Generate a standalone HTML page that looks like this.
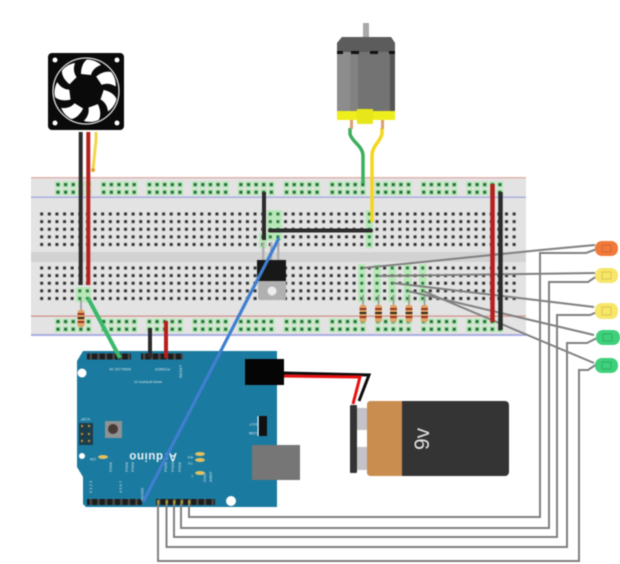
<!DOCTYPE html>
<html>
<head>
<meta charset="utf-8">
<style>
html,body{margin:0;padding:0;background:#fff;width:620px;height:564px;overflow:hidden}
svg{display:block;filter:blur(0.4px)}
text{font-family:"Liberation Sans",sans-serif}
</style>
</head>
<body>
<svg width="620" height="564" viewBox="0 0 620 564" xmlns="http://www.w3.org/2000/svg">
<defs>
<pattern id="h" patternUnits="userSpaceOnUse" x="37.89" y="210.2" width="7.62" height="7.62">
  <rect x="2.3" y="2.3" width="3" height="3" fill="#333"/>
</pattern>
<pattern id="h2" patternUnits="userSpaceOnUse" x="37.89" y="264.2" width="7.62" height="7.62">
  <rect x="2.3" y="2.3" width="3" height="3" fill="#333"/>
</pattern>
<pattern id="gt" patternUnits="userSpaceOnUse" x="37.89" y="210.2" width="7.62" height="7.62">
  <rect width="7.62" height="7.62" fill="#b8e8b8"/>
  <rect x="2.3" y="2.3" width="3" height="3" fill="#2f7a45"/>
</pattern>
<pattern id="gb" patternUnits="userSpaceOnUse" x="37.89" y="264.2" width="7.62" height="7.62">
  <rect width="7.62" height="7.62" fill="#b8e8b8"/>
  <rect x="2.3" y="2.3" width="3" height="3" fill="#2f7a45"/>
</pattern>
<pattern id="rt" patternUnits="userSpaceOnUse" x="54.19" y="180.8" width="7.62" height="7.62">
  <rect x=".8" y=".8" width="6" height="6" fill="#aee6ae"/>
  <rect x="2.3" y="2.3" width="3" height="3" fill="#236b3a"/>
</pattern>
<pattern id="rb" patternUnits="userSpaceOnUse" x="54.19" y="317.8" width="7.62" height="7.62">
  <rect x=".8" y=".8" width="6" height="6" fill="#aee6ae"/>
  <rect x="2.3" y="2.3" width="3" height="3" fill="#236b3a"/>
</pattern>
<pattern id="pins" patternUnits="userSpaceOnUse" x="87" y="0" width="7.62" height="7.62">
  <rect width="7.62" height="7.62" fill="#1d1d1d"/>
  <rect x="2.6" y="0" width="2.4" height="7.62" fill="#4a4a4a"/>
</pattern>
<path id="blade" d="M-5,-17 C-5,-23 -3,-29 1,-31.5 C7,-31.5 12,-29 15,-26 C9,-24 6,-20 5,-16 Z" fill="#fff"/>
<g id="res">
  <rect x="-0.8" y="-10" width="1.6" height="28" fill="#9a9a9a"/>
  <rect x="-3.4" y="0" width="6.8" height="17" rx="2" fill="#dba564"/>
  <rect x="-3.4" y="3" width="6.8" height="2" fill="#a0331e"/>
  <rect x="-3.4" y="7" width="6.8" height="2" fill="#3a2a1a"/>
  <rect x="-3.4" y="11" width="6.8" height="2" fill="#a0331e"/>
</g>
</defs>

<!-- Breadboard -->
<rect x="31" y="177" width="495" height="159" fill="#e3e3e3"/>
<rect x="31" y="177" width="495" height="1.5" fill="#e0b4b0"/>
<rect x="31" y="196.5" width="495" height="1.5" fill="#a9aee0"/>
<rect x="31" y="315.5" width="495" height="1.2" fill="#d28f88"/>
<rect x="31" y="334" width="495" height="2" fill="#a9aee0"/>
<rect x="31" y="252" width="495" height="10" fill="#d2d2d2"/>

<!-- rails -->
<g fill="url(#rt)">
  <rect x="54.19" y="180.8" width="38.1" height="15.24"/><rect x="99.9" y="180.8" width="38.1" height="15.24"/><rect x="145.6" y="180.8" width="38.1" height="15.24"/><rect x="191.4" y="180.8" width="38.1" height="15.24"/><rect x="237.1" y="180.8" width="38.1" height="15.24"/><rect x="282.8" y="180.8" width="38.1" height="15.24"/><rect x="328.5" y="180.8" width="38.1" height="15.24"/><rect x="374.2" y="180.8" width="38.1" height="15.24"/><rect x="420" y="180.8" width="38.1" height="15.24"/><rect x="465.7" y="180.8" width="38.1" height="15.24"/>
</g>
<g fill="url(#rb)">
  <rect x="54.19" y="317.8" width="38.1" height="15.24"/><rect x="99.9" y="317.8" width="38.1" height="15.24"/><rect x="145.6" y="317.8" width="38.1" height="15.24"/><rect x="191.4" y="317.8" width="38.1" height="15.24"/><rect x="237.1" y="317.8" width="38.1" height="15.24"/><rect x="282.8" y="317.8" width="38.1" height="15.24"/><rect x="328.5" y="317.8" width="38.1" height="15.24"/><rect x="374.2" y="317.8" width="38.1" height="15.24"/><rect x="420" y="317.8" width="38.1" height="15.24"/><rect x="465.7" y="317.8" width="38.1" height="15.24"/>
</g>

<!-- main holes -->
<rect x="37.89" y="210.2" width="480.06" height="38.1" fill="url(#h)"/>
<rect x="37.89" y="264.2" width="480.06" height="38.1" fill="url(#h2)"/>

<!-- highlighted columns -->
<rect x="76" y="287.1" width="15.24" height="15.24" fill="url(#gb)"/>
<rect x="266.9" y="210.2" width="15.24" height="30.48" fill="url(#gt)"/>
<rect x="259.2" y="233" width="7.62" height="15.24" fill="url(#gt)"/>
<rect x="365.5" y="210.2" width="7.62" height="38.1" fill="url(#gt)"/>
<rect x="357.9" y="264.2" width="7.62" height="38.1" fill="url(#gb)"/>
<rect x="373.2" y="264.2" width="7.62" height="38.1" fill="url(#gb)"/>
<rect x="388.4" y="264.2" width="7.62" height="38.1" fill="url(#gb)"/>
<rect x="403.7" y="264.2" width="7.62" height="38.1" fill="url(#gb)"/>
<rect x="418.9" y="264.2" width="7.62" height="38.1" fill="url(#gb)"/>

<!-- resistors -->
<use href="#res" x="81" y="310"/>
<use href="#res" x="363" y="305"/>
<use href="#res" x="378.5" y="305"/>
<use href="#res" x="393.5" y="305"/>
<use href="#res" x="409" y="305"/>
<use href="#res" x="424.5" y="305"/>

<!-- Transistor -->
<g fill="#aeaeae">
  <rect x="262" y="242" width="2.4" height="20"/><rect x="270" y="242" width="2.4" height="20"/><rect x="277" y="242" width="2.4" height="20"/>
</g>
<rect x="258" y="278" width="28" height="22" rx="2" fill="#b0b0b0"/>
<circle cx="272" cy="291" r="4.5" fill="#ececec"/>
<rect x="257" y="260" width="29" height="21" fill="#181818"/>

<!-- Arduino -->
<path d="M83,351 H277 V507 H86 L83,504 V477 L77,467 V361 Z" fill="#1b7a9f"/>
<rect x="87" y="353.500" width="44" height="6" fill="url(#pins)"/>
<rect x="141" y="353.500" width="42" height="6" fill="url(#pins)"/>
<rect x="87" y="499" width="55" height="6" fill="url(#pins)"/>
<rect x="156" y="499" width="36" height="6" fill="url(#pins)"/>
<rect x="192" y="499" width="23" height="6" fill="url(#pins)"/>
<g fill="#a89a3c">
  <rect x="157" y="500" width="2.400" height="4"/><rect x="165.500" y="500" width="2.400" height="4"/><rect x="173" y="500" width="2.400" height="4"/><rect x="180.500" y="500" width="2.400" height="4"/><rect x="188" y="500" width="2.400" height="4"/>
</g>
<circle cx="82" cy="373" r="4.500" fill="#fff"/>
<circle cx="82" cy="456" r="3" fill="#fff"/>
<circle cx="231" cy="501" r="5" fill="#fff"/>
<rect x="245" y="359" width="39" height="26" fill="#050505"/>
<rect x="252" y="445" width="48" height="35" fill="#767676"/>
<rect x="79" y="423" width="14" height="22" fill="#1c3d4a"/>
<g fill="#c08a3c"><circle cx="82" cy="426" r="1.200"/><circle cx="89" cy="426" r="1.200"/><circle cx="82" cy="434" r="1.200"/><circle cx="89" cy="434" r="1.200"/><circle cx="82" cy="441" r="1.200"/><circle cx="89" cy="441" r="1.200"/></g>
<rect x="105" y="421" width="17" height="17" fill="#8d9292"/>
<circle cx="113" cy="429" r="5" fill="#4a3a36"/>
<rect x="259" y="416" width="8" height="20" fill="#111"/>
<rect x="257.500" y="416" width="1" height="20" fill="#fff"/>
<g fill="#e2c060">
  <ellipse cx="103" cy="457" rx="5" ry="2"/><ellipse cx="200" cy="454" rx="5" ry="2"/><ellipse cx="200" cy="460" rx="5" ry="2"/><ellipse cx="200" cy="473" rx="5" ry="2"/>
</g>
<text transform="translate(177,453) rotate(180)" font-size="11.500" font-weight="bold" fill="#e8f2f6" letter-spacing=".6">Arduino</text>
<g fill="#cfe3ea" font-size="4">
  <text transform="translate(131,368) rotate(180)">ANALOG IN</text>
  <text transform="translate(170,368) rotate(180)">POWER</text>
  <text transform="translate(162,381) rotate(180)">www.arduino.cc</text>
  <text transform="translate(90,418) rotate(180)">ICSP</text>
  <text transform="translate(96,458) rotate(180)">ON</text>
  <text transform="translate(193,456) rotate(180)">RX</text>
  <text transform="translate(193,462) rotate(180)">TX</text>
  <text transform="translate(193,475) rotate(180)">L</text>
  <text transform="translate(257,423) rotate(180)">EXT</text>
  <text transform="translate(257,432) rotate(180)">USB</text>
  <text transform="translate(141,488) rotate(90)" font-size="3.500">DIGITAL</text>
  <text transform="translate(206,482) rotate(-90)">GND</text>
  <text transform="translate(212,482) rotate(-90)">AREF</text>
  <text transform="translate(112,472) rotate(-90)">PWM</text>
  <text transform="translate(128,472) rotate(-90)">PWM</text>
  <text transform="translate(134,472) rotate(-90)">PWM</text>
  <text transform="translate(167,472) rotate(-90)">PWM</text>
  <text transform="translate(174,472) rotate(-90)">PWM</text>
  <text transform="translate(181,472) rotate(-90)">PWM</text>
  <text transform="translate(92,493) rotate(-90)">0 1 2 3</text>
  <text transform="translate(122,493) rotate(-90)">4 5 6 7</text>
  <text transform="translate(182,378) rotate(-90)">RESET</text>
</g>

<!-- Arduino/breadboard wires -->
<line x1="150" y1="328" x2="150" y2="358" stroke="#2b2b2b" stroke-width="4"/>
<line x1="166" y1="321" x2="166" y2="358" stroke="#b5201f" stroke-width="4"/>
<line x1="88" y1="298" x2="120" y2="358" stroke="#3cb96a" stroke-width="4"/>

<!-- Gray LED wires -->
<g fill="none" stroke="#808080" stroke-width="2">
  <polyline points="363,268 541,250 595,245"/>
  <polyline points="378,276 595,273"/>
  <polyline points="393,283 594,307"/>
  <polyline points="408,291 594,335"/>
  <polyline points="423,291 594,363"/>
  <polyline points="597,249 586,253 540,253 540,517 189,517 189,504"/>
  <polyline points="597,276 588,282 549,282 549,528 181,528 181,504"/>
  <polyline points="597,312 590,315 557,315 557,537 174,537 174,504"/>
  <polyline points="597,338 587,343 567,343 567,547 166.500,547 166.500,504"/>
  <polyline points="597,364 588,370 579,370 579,561 158,561 158,504"/>
</g>

<!-- LEDs -->
<rect x="595" y="241" width="23" height="15" rx="7" fill="#f07a3a"/>
<rect x="595" y="268" width="23" height="15" rx="7" fill="#f6e66a"/>
<rect x="595" y="303" width="23" height="16" rx="7" fill="#f6e66a"/>
<rect x="596" y="330" width="24" height="15" rx="7" fill="#3ed07a"/>
<rect x="595" y="358" width="23" height="15" rx="7" fill="#3ed07a"/>
<g fill="none" stroke-width="1">
  <rect x="602" y="245" width="9" height="7" stroke="#d8682e"/>
  <rect x="602" y="272" width="9" height="7" stroke="#dcc64c"/>
  <rect x="602" y="307" width="9" height="8" stroke="#dcc64c"/>
  <rect x="603" y="334" width="9" height="7" stroke="#2fb064"/>
  <rect x="602" y="362" width="9" height="7" stroke="#2fb064"/>
</g>

<!-- Breadboard wires -->
<line x1="264" y1="192" x2="264" y2="240" stroke="#2b2b2b" stroke-width="4"/>
<line x1="270" y1="230.500" x2="371" y2="230.500" stroke="#2b2b2b" stroke-width="4" stroke-linecap="round"/>
<line x1="492.500" y1="184" x2="492.500" y2="322" stroke="#b5201f" stroke-width="4.500"/>
<line x1="500.500" y1="192" x2="500.500" y2="330" stroke="#2b2b2b" stroke-width="4.500"/>
<line x1="279" y1="238" x2="143" y2="502" stroke="#3f7fd0" stroke-width="3.200"/>

<!-- Motor wires -->
<path d="M350,128 V134 C352,142 363,146 363,156 V183" fill="none" stroke="#3cae5e" stroke-width="3.500"/>
<path d="M382,128 V134 C380,142 372,146 372,156 V222" fill="none" stroke="#f4d61e" stroke-width="3.500"/>

<!-- Motor -->
<rect x="363" y="23" width="6" height="15" fill="#a9a9a9"/>
<path d="M342,37 H391 L395,43 V112 H337 V43 Z" fill="#737373"/>
<rect x="337" y="52" width="13" height="60" fill="#8c8c8c"/>
<rect x="350" y="52" width="8" height="60" fill="#828282"/>
<rect x="390" y="43" width="5" height="69" fill="#555"/>
<path d="M342,37 H391 L395,43 V52 H337 V43 Z" fill="#5c5c5c"/>
<g fill="#111"><rect x="337" y="51" width="6" height="3"/><rect x="351" y="51" width="8" height="3"/><rect x="370" y="51" width="8" height="3"/><rect x="389" y="51" width="6" height="3"/></g>
<rect x="350" y="120" width="3" height="9" fill="#d9a070"/>
<rect x="381" y="120" width="3" height="9" fill="#d9a070"/>
<rect x="337" y="111" width="58" height="9" fill="#eeee1c"/>
<rect x="357" y="109" width="16" height="15" fill="#e6e61a"/>

<!-- Fan -->
<line x1="80.700" y1="132" x2="80.700" y2="285" stroke="#2b2b2b" stroke-width="4"/>
<line x1="88.300" y1="132" x2="88.300" y2="285" stroke="#b5201f" stroke-width="4"/>
<polyline points="96,132 96,140 93,170" fill="none" stroke="#f2d64a" stroke-width="3"/>
<circle cx="93" cy="170" r="2" fill="#e8a030"/>
<rect x="48" y="53" width="76" height="77" rx="4" fill="#0a0a0a"/>
<g fill="#fff"><circle cx="55" cy="60" r="2.500"/><circle cx="117" cy="60" r="2.500"/><circle cx="55" cy="123" r="2.500"/><circle cx="117" cy="123" r="2.500"/></g>
<circle cx="86" cy="91" r="33" fill="none" stroke="#ddd" stroke-width="1.300"/>
<g transform="translate(86,91)">
  <use href="#blade"/>
  <use href="#blade" transform="rotate(51.400)"/>
  <use href="#blade" transform="rotate(102.900)"/>
  <use href="#blade" transform="rotate(154.300)"/>
  <use href="#blade" transform="rotate(205.700)"/>
  <use href="#blade" transform="rotate(257.100)"/>
  <use href="#blade" transform="rotate(308.600)"/>
</g>

<!-- Battery wires -->
<polyline points="284,373 369,375 359,401" fill="none" stroke="#0c0c0c" stroke-width="3"/>
<polyline points="284,376 360,377 353,404" fill="none" stroke="#e81010" stroke-width="3"/>

<!-- Battery -->
<rect x="357" y="408" width="10" height="22" fill="#c2c2c8"/>
<rect x="357" y="447" width="10" height="23" fill="#c2c2c8"/>
<rect x="350" y="405" width="7" height="68" rx="1" fill="#333"/>
<rect x="367" y="401" width="142" height="75" rx="4" fill="#343434"/>
<path d="M371,401 H402 V476 H371 Q367,476 367,472 V405 Q367,401 371,401 Z" fill="#c98d50"/>
<text transform="translate(429,450) rotate(-90)" font-size="21" fill="#e4e4e4">9v</text>
</svg>
</body>
</html>
